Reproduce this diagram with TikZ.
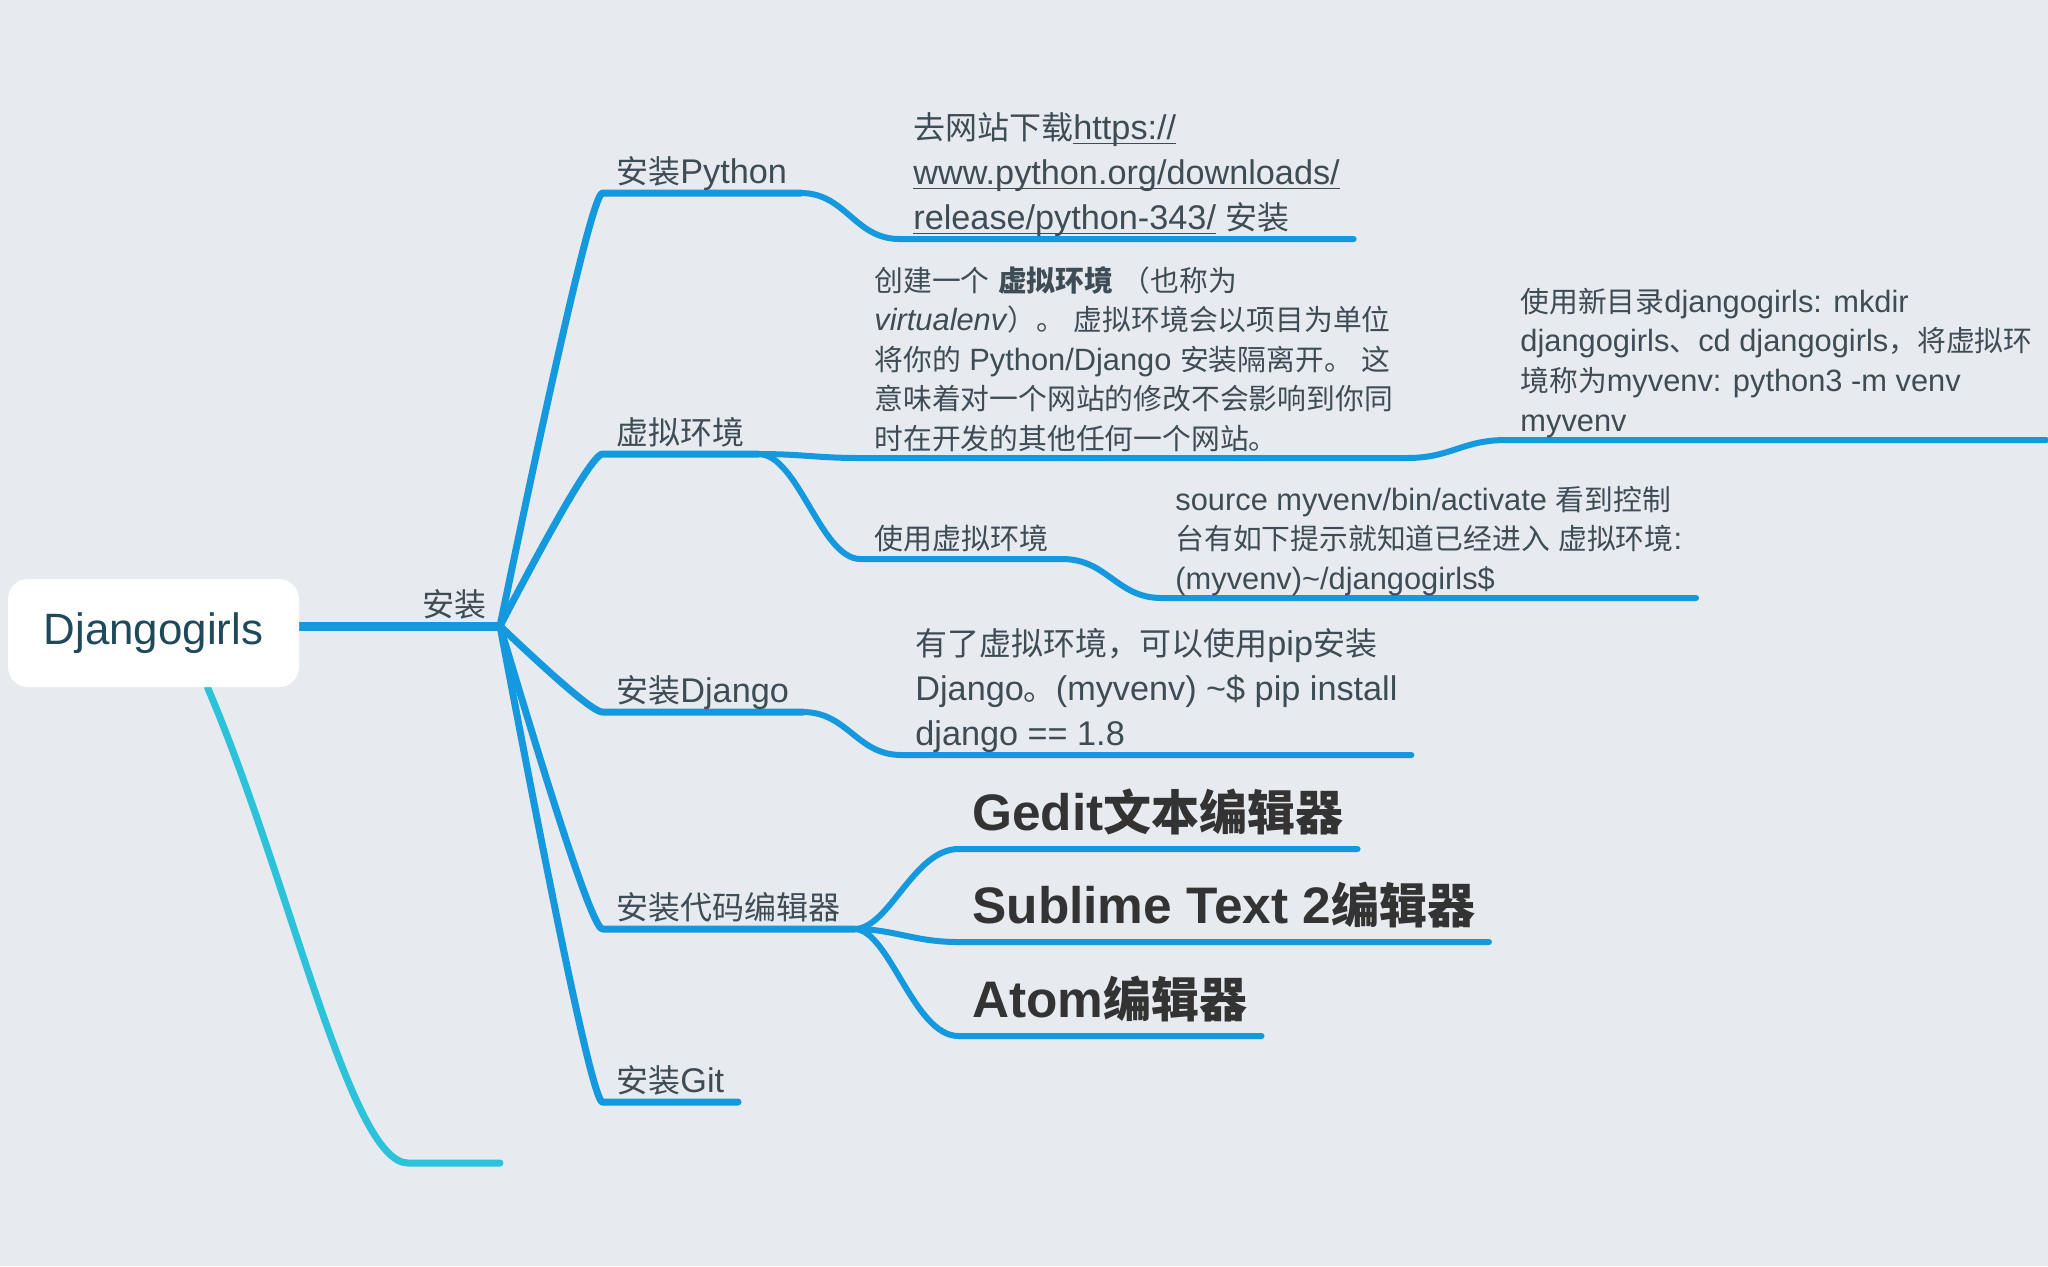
\documentclass[tikz,border=0pt]{standalone}
\usepackage{fontspec}
\setmainfont{Liberation Sans}[Scale=1.07]
\newfontfamily\zhfont{Noto Sans CJK SC}
\newcommand\zh[1]{{\zhfont #1}}
\newsavebox\lnkbox
\newcommand\lnk[1]{\sbox\lnkbox{#1}\rlap{\rule[-2.6pt]{\wd\lnkbox}{0.8pt}}\usebox\lnkbox}
\newcommand\dstrut[1]{\rule[-#1]{0pt}{#1}}
\definecolor{bgc}{HTML}{E7EBEF}
\definecolor{bluec}{HTML}{1498DE}
\definecolor{tealc}{HTML}{2CC2D9}
\definecolor{labelc}{HTML}{3E4C56}
\definecolor{rootc}{HTML}{1F4A5C}
\definecolor{boldc}{HTML}{333333}
\pgfdeclarelayer{bg}
\pgfsetlayers{bg,main}
\begin{document}
\begin{tikzpicture}[x=0.5pt,y=-0.5pt,
  lbl/.style={anchor=south west, inner xsep=6.75pt, inner ysep=0pt, text=labelc, font=\fontsize{16pt}{22.5pt}\selectfont, text depth=4.8pt},
  sublbl/.style={lbl, font=\fontsize{14.5pt}{19.7pt}\selectfont, text depth=4.35pt},
  desc/.style={anchor=south west, inner xsep=6.75pt, inner ysep=0pt, align=left, text=labelc},
  big/.style={anchor=south west, inner xsep=6.75pt, inner ysep=0pt, text=boldc, font=\fontsize{24pt}{28pt}\selectfont\bfseries, text depth=9.1pt},
  rootbox/.style={fill=white, rounded corners=10pt, minimum width=145.5pt, minimum height=54pt, inner sep=0pt, text=rootc, font=\fontsize{20.5pt}{24pt}\selectfont},
  trunk/.style={draw=bluec, line width=4.5pt, line cap=round},
  br1/.style={draw=bluec, line width=3.5pt, line cap=round, line join=round},
  br2/.style={draw=bluec, line width=3pt, line cap=round, line join=round},
  tealline/.style={draw=tealc, line width=3.5pt, line cap=round, line join=round}
]
\useasboundingbox (0,0) rectangle (2048,1266);

% root
\node[rootbox] (root) at (153.5,633) {Djangogirls};
\node[lbl, anchor=south east] (anz) at (500,626) {\zh{安装}};

% first level
\node[lbl] (py) at (602.5,193) {\zh{安装}Python};
\node[lbl] (vl) at (602.5,454) {\zh{虚拟环境}};
\node[lbl] (dj) at (602.5,712) {\zh{安装}Django};
\node[lbl] (ed) at (602.5,929) {\zh{安装代码编辑器}};
\node[lbl] (git) at (602.5,1102) {\zh{安装}Git};

% python
\node[desc, font=\fontsize{16pt}{22.5pt}\selectfont] (pyt) at (899.5,239)
  {\zh{去网站下载}\lnk{https://}\\\lnk{www.python.org/downloads/}\\\lnk{release/python-343/} \zh{安装}\dstrut{4.8pt}};

% virtual env
\node[desc, font=\fontsize{14.4pt}{19.7pt}\selectfont] (vt1) at (860.5,458)
  {\zh{创建一个} {\zhfont\bfseries 虚拟环境} \zh{（也称为}\\\textit{virtualenv}\zh{）。} \zh{虚拟环境会以项目为单位}\\\zh{将你的} Python/Django \zh{安装隔离开。} \zh{这}\\\zh{意味着对一个网站的修改不会影响到你同}\\\zh{时在开发的其他任何一个网站。}\dstrut{4.3pt}};
\node[desc, font=\fontsize{14.4pt}{19.8pt}\selectfont] (vt2) at (1506.5,440)
  {\zh{使用新目录}djangogirls: mkdir\\djangogirls\zh{、}cd djangogirls\zh{，将虚拟环}\\\zh{境称为}myvenv: python3 -m venv\\myvenv\dstrut{4.3pt}};
\node[sublbl] (uv) at (860.5,559) {\zh{使用虚拟环境}};
\node[desc, font=\fontsize{14.4pt}{19.75pt}\selectfont] (ut) at (1161.5,598)
  {source myvenv/bin/activate \zh{看到控制}\\\zh{台有如下提示就知道已经进入} \zh{虚拟环境}:\\(myvenv)\textasciitilde/djangogirls\$\dstrut{4.3pt}};

% django
\node[desc, font=\fontsize{16pt}{22.5pt}\selectfont] (djt) at (901.5,755)
  {\zh{有了虚拟环境，可以使用}pip\zh{安装}\\Django\zh{。}(myvenv) \textasciitilde\$ pip install\\django == 1.8\dstrut{4.8pt}};

% editors
\node[big] (ge) at (958.5,849) {Gedit\zh{文本编辑器}};
\node[big] (su) at (958.5,942) {Sublime Text 2\zh{编辑器}};
\node[big] (atom) at (958.5,1036) {Atom\zh{编辑器}};

\coordinate (tealend) at (500,1163);

\begin{pgfonlayer}{bg}
\fill[bgc] (0,0) rectangle (2048,1266);
\draw[tealline] ([xshift=27pt]root.south) .. controls (290,880) and (350,1163) .. (408,1163) -- (tealend);
\draw[trunk] (root.east |- anz.south east) -- (anz.south east);
\draw[br1] (anz.south east) .. controls (560,337) and (594,193) .. (py.south west) -- (py.south east);
\draw[br1] (anz.south east) .. controls (560,511) and (594,454) .. (vl.south west) -- (vl.south east);
\draw[br1] (anz.south east) .. controls (560,683) and (594,712) .. (dj.south west) -- (dj.south east);
\draw[br1] (anz.south east) .. controls (560,828) and (594,929) .. (ed.south west) -- (ed.south east);
\draw[br1] (anz.south east) .. controls (560,943) and (594,1102) .. (git.south west) -- (git.south east);
\draw[br2] (py.south east) .. controls +(45,0) and +(-45,0) .. (pyt.south west) -- (pyt.south east);
\draw[br2] (vl.south east) .. controls +(45,0) and +(-45,0) .. (vt1.south west) -- (vt1.south east);
\draw[br2] (vt1.south east) .. controls +(45,0) and +(-45,0) .. (vt2.south west) -- (vt2.south east);
\draw[br2] (vl.south east) .. controls +(40,0) and +(-40,0) .. (uv.south west) -- (uv.south east);
\draw[br2] (uv.south east) .. controls +(45,0) and +(-45,0) .. (ut.south west) -- (ut.south east);
\draw[br2] (dj.south east) .. controls +(45,0) and +(-45,0) .. (djt.south west) -- (djt.south east);
\draw[br2] (ed.south east) .. controls +(35,0) and +(-45,0) .. (ge.south west) -- (ge.south east);
\draw[br2] (ed.south east) .. controls +(40,0) and +(-45,0) .. (su.south west) -- (su.south east);
\draw[br2] (ed.south east) .. controls +(35,0) and +(-45,0) .. (atom.south west) -- (atom.south east);
\end{pgfonlayer}
\end{tikzpicture}
\end{document}
